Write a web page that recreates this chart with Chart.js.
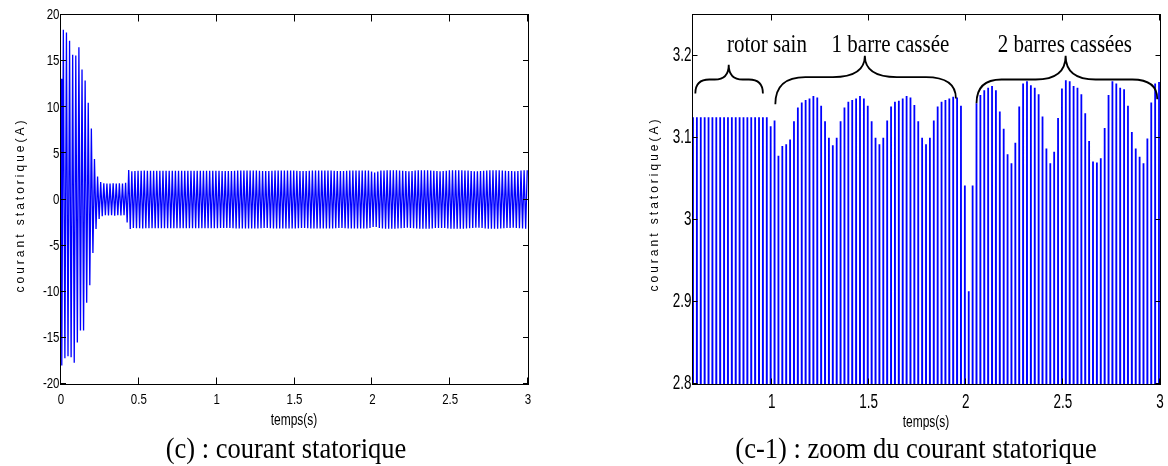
<!DOCTYPE html>
<html>
<head>
<meta charset="utf-8">
<title>courant statorique</title>
<script src="https://cdn.jsdelivr.net/npm/chart.js@4.4.1/dist/chart.umd.min.js"></script>
<style>
  body { margin: 0; background: #fff; }
  #page { position: relative; width: 1168px; height: 466px; }
  #page canvas { position: absolute; top: 0; }
</style>
</head>
<body>
<div id="page">
  <canvas id="graphC" width="584" height="466" style="left:0"></canvas>
  <canvas id="graphZoom" width="584" height="466" style="left:584px"></canvas>
</div>
<script>
// courant de phase : un creux puis un pic par periode (50 Hz)
var periode = 0.02;
var premierCreux = 0.005;
var valeurInitiale = 13.1;

var pics = [
  18.4, 18.1, 17.2, 15.7, 15.6, 16.5, 14.1, 12.9, 10.5, 7.7,
  4.4, 2.5, 1.9, 1.75, 1.72, 1.74, 1.75, 1.73, 1.75, 1.74,
  1.8, 3.2, 3.05, 3.1, 3.12, 3.12, 3.13, 3.12, 3.125, 3.125,
  3.125, 3.125, 3.125, 3.125, 3.125, 3.125, 3.125, 3.125, 3.125, 3.125,
  3.125, 3.125, 3.125, 3.125, 3.125, 3.125, 3.125, 3.125, 3.125, 3.114,
  3.121, 3.078, 3.090, 3.092, 3.098, 3.120, 3.137, 3.143, 3.146, 3.148,
  3.151, 3.149, 3.139, 3.120, 3.100, 3.091, 3.100, 3.120, 3.137, 3.144,
  3.146, 3.148, 3.151, 3.148, 3.139, 3.120, 3.100, 3.092, 3.100, 3.121,
  3.138, 3.144, 3.145, 3.148, 3.151, 3.149, 3.140, 3.120, 3.100, 3.092,
  3.100, 3.121, 3.138, 3.144, 3.146, 3.148, 3.150, 3.149, 3.139, 3.042,
  2.913, 3.042, 3.142, 3.152, 3.158, 3.161, 3.163, 3.158, 3.132, 3.111,
  3.080, 3.069, 3.094, 3.138, 3.166, 3.169, 3.164, 3.161, 3.153, 3.126,
  3.087, 3.069, 3.083, 3.124, 3.160, 3.170, 3.169, 3.163, 3.161, 3.153,
  3.130, 3.096, 3.071, 3.070, 3.075, 3.112, 3.152, 3.169, 3.166, 3.161,
  3.159, 3.139, 3.107, 3.087, 3.077, 3.069, 3.099, 3.143, 3.166, 3.168
];

// valeur de chaque creux (A)
var creux = [
  -18.0, -17.2, -17.0, -17.1, -17.7, -15.5, -14.2, -14.2, -11.2, -9.3,
  -5.8, -3.2, -2.1, -1.8, -1.7, -1.72, -1.7, -1.75, -1.7, -1.72,
  -1.7, -2.5, -3.2, -3.1, -3.12, -3.12, -3.13, -3.12, -3.125, -3.125,
  -3.125, -3.125, -3.125, -3.125, -3.125, -3.125, -3.125, -3.125, -3.125, -3.125,
  -3.125, -3.125, -3.125, -3.125, -3.125, -3.125, -3.125, -3.125, -3.125, -3.12,
  -3.12, -3.1, -3.08, -3.09, -3.09, -3.11, -3.13, -3.14, -3.15, -3.15,
  -3.15, -3.15, -3.14, -3.13, -3.11, -3.09, -3.09, -3.11, -3.13, -3.14,
  -3.15, -3.15, -3.15, -3.15, -3.14, -3.13, -3.11, -3.09, -3.09, -3.11,
  -3.13, -3.14, -3.15, -3.15, -3.15, -3.15, -3.14, -3.13, -3.11, -3.09,
  -3.09, -3.11, -3.13, -3.14, -3.15, -3.15, -3.15, -3.15, -3.14, -3.09,
  -2.97, -2.98, -3.09, -3.15, -3.16, -3.16, -3.16, -3.16, -3.14, -3.12,
  -3.09, -3.07, -3.08, -3.12, -3.15, -3.17, -3.17, -3.16, -3.16, -3.14,
  -3.1, -3.08, -3.08, -3.1, -3.14, -3.17, -3.17, -3.17, -3.16, -3.16,
  -3.14, -3.11, -3.08, -3.07, -3.07, -3.09, -3.13, -3.16, -3.17, -3.16,
  -3.16, -3.15, -3.12, -3.1, -3.08, -3.07, -3.08, -3.12, -3.15, -3.17
];

var ticksTemps = [0, 0.5, 1, 1.5, 2, 2.5, 3];
var ticksCourant = [-20, -15, -10, -5, 0, 5, 10, 15, 20];
var ticksTempsZoom = [1, 1.5, 2, 2.5, 3];
var ticksCourantZoom = [2.8, 2.9, 3, 3.1, 3.2];
var zones = ['rotor sain', '1 barre cassée', '2 barres cassées'];

function points() {
  var pts = [{ x: 0, y: valeurInitiale }];
  for (var k = 0; k < pics.length; k++) {
    var t = premierCreux + k * periode;
    pts.push({ x: t, y: creux[k] });
    pts.push({ x: t + periode / 2, y: pics[k] });
  }
  return pts;
}

// texte etire verticalement (la figure d'origine est deformee)
function ecrire(ctx, txt, x, y, o) {
  ctx.save();
  ctx.translate(x, y);
  if (o.vertical) {
    ctx.rotate(-Math.PI / 2);
    ctx.scale(o.etire || 1, 1);
  } else {
    ctx.scale(1, o.etire || 1);
  }
  ctx.font = o.font;
  ctx.fillStyle = '#000';
  ctx.textAlign = o.align || 'center';
  ctx.textBaseline = o.base || 'alphabetic';
  if (o.espace) ctx.letterSpacing = o.espace + 'px';
  ctx.fillText(txt, 0, 0);
  ctx.restore();
}

function habillage(o) {
  return {
    id: 'habillage',
    afterDatasetsDraw: function (chart) {
      var ctx = chart.ctx, a = chart.chartArea;
      var sx = chart.scales.x, sy = chart.scales.y;
      var l = a.left - 0.5, r = a.right + 0.5, t = a.top - 0.5, b = a.bottom + 0.5;

      ctx.save();
      ctx.strokeStyle = '#000';
      ctx.lineWidth = 1;
      ctx.strokeRect(l, t, r - l, b - t);
      ctx.beginPath();
      sx.ticks.forEach(function (tk) {
        var x = Math.round(sx.getPixelForValue(tk.value)) - 0.5;
        ctx.moveTo(x, b); ctx.lineTo(x, b - o.tickX);
        ctx.moveTo(x, t); ctx.lineTo(x, t + o.tickX);
      });
      sy.ticks.forEach(function (tk) {
        var y = Math.round(sy.getPixelForValue(tk.value)) - 0.5;
        ctx.moveTo(l, y); ctx.lineTo(l + o.tickY, y);
        ctx.moveTo(r, y); ctx.lineTo(r - o.tickY, y);
      });
      ctx.stroke();
      ctx.restore();

      sx.ticks.forEach(function (tk) {
        ecrire(ctx, String(tk.value), sx.getPixelForValue(tk.value), o.baseTicksX,
          { font: o.policeTicks, etire: o.etireTicks });
      });
      sy.ticks.forEach(function (tk) {
        ecrire(ctx, String(tk.value), a.left - o.ecartTicksY, sy.getPixelForValue(tk.value),
          { font: o.policeTicks, etire: o.etireTicks, align: 'right', base: 'middle' });
      });

      ecrire(ctx, 'temps(s)', o.titreX[0], o.titreX[1],
        { font: '12px "Liberation Sans", Arial, sans-serif', etire: 1.3 });
      ecrire(ctx, 'courant statorique(A)', o.titreY[0], o.titreY[1],
        { font: '12px "Liberation Sans", Arial, sans-serif', vertical: true, base: 'middle', espace: 3 });
      ecrire(ctx, o.legende, o.posLegende[0], o.posLegende[1],
        { font: '26.5px "Liberation Serif", "Times New Roman", serif', etire: 1.15 });
    }
  };
}

// accolades au-dessus du zoom
var accolades = {
  id: 'accolades',
  afterDatasetsDraw: function (chart) {
    var ctx = chart.ctx, sx = chart.scales.x, sy = chart.scales.y;
    var geo = [
      { t0: 0.607, t1: 0.955, tm: 0.779, y0: 3.154, y1: 3.154, ys: 3.171, yp: 3.189, r1: 14, r2: 14, tl: 0.976 },
      { t0: 1.019, t1: 1.949, tm: 1.480, y0: 3.141, y1: 3.148, ys: 3.174, yp: 3.2, r1: 30, r2: 32, tl: 1.612 },
      { t0: 2.055, t1: 2.986, tm: 2.514, y0: 3.142, y1: 3.147, ys: 3.171, yp: 3.2, r1: 25, r2: 30, tl: 2.51 }
    ];
    ctx.save();
    ctx.strokeStyle = '#000';
    ctx.lineWidth = 1.8;
    geo.forEach(function (g, i) {
      var x0 = sx.getPixelForValue(g.t0), x1 = sx.getPixelForValue(g.t1), xm = sx.getPixelForValue(g.tm);
      var y0 = sy.getPixelForValue(g.y0), y1 = sy.getPixelForValue(g.y1);
      var ys = sy.getPixelForValue(g.ys), yp = sy.getPixelForValue(g.yp);
      ctx.beginPath();
      ctx.moveTo(x0, y0);
      ctx.quadraticCurveTo(x0, ys, x0 + g.r1, ys);
      ctx.lineTo(xm - g.r2, ys);
      ctx.quadraticCurveTo(xm, ys, xm, yp);
      ctx.quadraticCurveTo(xm, ys, xm + g.r2, ys);
      ctx.lineTo(x1 - g.r1, ys);
      ctx.quadraticCurveTo(x1, ys, x1, y1);
      ctx.stroke();
      ecrire(ctx, zones[i], sx.getPixelForValue(g.tl), sy.getPixelForValue(3.2045),
        { font: '21px "Liberation Serif", "Times New Roman", serif', etire: 1.2 });
    });
    ctx.restore();
  }
};

function axes(xMin, xMax, yMin, yMax, tx, ty, largeurY) {
  return {
    x: {
      type: 'linear', min: xMin, max: xMax,
      grid: { display: false }, border: { display: false }, ticks: { display: false },
      afterBuildTicks: function (s) { s.ticks = tx.map(function (v) { return { value: v }; }); },
      afterFit: function (s) { s.height = 82; }
    },
    y: {
      type: 'linear', min: yMin, max: yMax,
      grid: { display: false }, border: { display: false }, ticks: { display: false },
      afterBuildTicks: function (s) { s.ticks = ty.map(function (v) { return { value: v }; }); },
      afterFit: function (s) { s.width = largeurY; }
    }
  };
}

function serie(epaisseur) {
  return {
    data: points(),
    borderColor: '#0000ff',
    borderWidth: epaisseur,
    borderJoinStyle: 'bevel',
    pointRadius: 0,
    tension: 0,
    clip: 0
  };
}

new Chart(document.getElementById('graphC'), {
  type: 'line',
  data: { datasets: [serie(1.3)] },
  options: {
    responsive: false,
    animation: false,
    events: [],
    layout: { padding: { left: 0, right: 56, top: 15, bottom: 0 } },
    plugins: { legend: { display: false }, tooltip: { enabled: false } },
    scales: axes(0, 3, -20, 20, ticksTemps, ticksCourant, 61)
  },
  plugins: [habillage({
    tickX: 7, tickY: 5.5,
    policeTicks: '11.5px "Liberation Sans", Arial, sans-serif', etireTicks: 1.35,
    baseTicksX: 404, ecartTicksY: 1.5,
    titreX: [294, 425], titreY: [21, 205],
    legende: '(c) : courant statorique', posLegende: [286, 458]
  })]
});

new Chart(document.getElementById('graphZoom'), {
  type: 'line',
  data: { datasets: [serie(1.8)] },
  options: {
    responsive: false,
    animation: false,
    events: [],
    layout: { padding: { left: 0, right: 8, top: 15, bottom: 0 } },
    plugins: { legend: { display: false }, tooltip: { enabled: false } },
    scales: axes(0.595, 3, 2.8, 3.2496, ticksTempsZoom, ticksCourantZoom, 109)
  },
  plugins: [habillage({
    tickX: 6, tickY: 5,
    policeTicks: '13.5px "Liberation Sans", Arial, sans-serif', etireTicks: 1.45,
    baseTicksX: 408, ecartTicksY: 1.5,
    titreX: [342, 427], titreY: [71, 204],
    legende: '(c-1) : zoom du courant statorique', posLegende: [332, 458]
  }), accolades]
});
</script>
</body>
</html>
